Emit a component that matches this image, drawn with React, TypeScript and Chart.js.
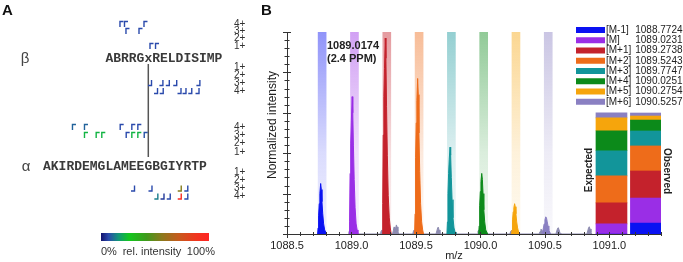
import React, { useEffect, useRef } from "react";
import { Chart, registerables } from "chart.js";

Chart.register(...registerables);

const FONT = "'Liberation Sans', Arial, sans-serif";
const MONO = "'Liberation Mono', 'Courier New', monospace";

// ---------------- Panel B data ----------------
const ISO_LABELS = ["[M-1]", "[M]", "[M+1]", "[M+2]", "[M+3]", "[M+4]", "[M+5]", "[M+6]"];
const ISO_MZ = [1088.7724, 1089.0231, 1089.2738, 1089.5243, 1089.7747, 1090.0251, 1090.2754, 1090.5257];
const ISO_COLORS = ["#0a12f2", "#9a2ee6", "#c4222c", "#ee6c1a", "#12959a", "#0c8a1a", "#f6a50c", "#8a80c2"];
const EXPECTED = [0, 0.05, 0.104, 0.134, 0.124, 0.099, 0.064, 0.025];
const OBSERVED = [0.054, 0.124, 0.134, 0.124, 0.074, 0.054, 0.02, 0.015];
const COLUMN_LABELS = ["Expected", "Observed"];
const COLUMN_MZ = [1091.016, 1091.283];
const BAND_TOP = 1;
const X_MIN = 1088.5;
const X_MAX = 1091.4;
const X_MAJOR = 0.5;
const X_MINOR = 0.1;
const Y_MAJOR = 0.2;
const Y_MINOR = 0.04;
const ANNOTATION = ["1089.0174", "(2.4 PPM)"];
const X_TITLE = "m/z";
const Y_TITLE = "Normalized intensity";

const PEAK_M_1 = [
  [1088.737, 0], [1088.741, 0.03], [1088.745, 0.09], [1088.75, 0.15], [1088.755, 0.2], [1088.761, 0.25],
  [1088.766, 0.22], [1088.771, 0.16], [1088.777, 0.1], [1088.784, 0.05], [1088.792, 0.02], [1088.8, 0.01],
  [1088.806, 0],
];
const PEAK_M = [
  [1088.981, 0], [1088.985, 0.06], [1088.989, 0.3], [1088.994, 0.45], [1088.999, 0.56], [1089.005, 0.68],
  [1089.01, 0.6], [1089.015, 0.44], [1089.021, 0.27], [1089.028, 0.13], [1089.036, 0.05], [1089.044, 0.02],
  [1089.05, 0],
];
const PEAK_M1 = [
  [1089.238, 0], [1089.242, 0.15], [1089.246, 0.49], [1089.251, 0.68], [1089.256, 0.82], [1089.262, 0.97],
  [1089.267, 0.87], [1089.272, 0.63], [1089.278, 0.39], [1089.285, 0.19], [1089.293, 0.08], [1089.301, 0.03],
  [1089.308, 0],
];
const PEAK_M2 = [
  [1089.489, 0], [1089.493, 0.1], [1089.497, 0.38], [1089.502, 0.55], [1089.507, 0.66], [1089.513, 0.77],
  [1089.518, 0.69], [1089.523, 0.5], [1089.529, 0.31], [1089.536, 0.15], [1089.544, 0.06], [1089.552, 0.02],
  [1089.559, 0],
];
const PEAK_M3 = [
  [1089.74, 0], [1089.744, 0.06], [1089.748, 0.2], [1089.753, 0.3], [1089.758, 0.37], [1089.764, 0.43],
  [1089.769, 0.39], [1089.774, 0.28], [1089.78, 0.17], [1089.787, 0.08], [1089.795, 0.03], [1089.803, 0.01],
  [1089.81, 0],
];
const PEAK_M4 = [
  [1089.986, 0], [1089.99, 0.04], [1089.994, 0.14], [1089.999, 0.21], [1090.004, 0.26], [1090.01, 0.3],
  [1090.015, 0.27], [1090.02, 0.2], [1090.026, 0.12], [1090.033, 0.06], [1090.041, 0.02], [1090.049, 0.01],
  [1090.056, 0],
];
const PEAK_M5 = [
  [1090.241, 0], [1090.245, 0.02], [1090.249, 0.07], [1090.254, 0.11], [1090.259, 0.13], [1090.265, 0.15],
  [1090.27, 0.135], [1090.275, 0.1], [1090.281, 0.06], [1090.288, 0.03], [1090.296, 0.01], [1090.304, 0],
];
const PEAK_M6 = [
  [1090.476, 0], [1090.482, 0.01], [1090.488, 0.03], [1090.494, 0.05], [1090.5, 0.07], [1090.506, 0.085],
  [1090.512, 0.08], [1090.518, 0.06], [1090.524, 0.04], [1090.53, 0.02], [1090.537, 0.01], [1090.544, 0],
];
const PEAKS = [PEAK_M_1, PEAK_M, PEAK_M1, PEAK_M2, PEAK_M3, PEAK_M4, PEAK_M5, PEAK_M6];

const BACKGROUND = [
  [1088.975, 0], [1088.98, 0.012], [1088.985, 0.015], [1088.99, 0.01], [1088.995, 0],
  [1089.225, 0], [1089.23, 0.015], [1089.236, 0.02], [1089.242, 0],
  [1089.318, 0], [1089.324, 0.015], [1089.33, 0.035], [1089.336, 0.03], [1089.342, 0.025], [1089.348, 0.045],
  [1089.354, 0.035], [1089.36, 0.012], [1089.366, 0],
  [1089.475, 0], [1089.481, 0.015], [1089.487, 0.02], [1089.493, 0],
  [1089.655, 0], [1089.662, 0.015], [1089.668, 0.03], [1089.673, 0.034], [1089.679, 0.02], [1089.686, 0.005],
  [1089.692, 0],
  [1089.975, 0], [1089.981, 0.015], [1089.988, 0.02], [1089.994, 0],
  [1090.228, 0], [1090.234, 0.012], [1090.241, 0.018], [1090.247, 0],
  [1090.455, 0], [1090.462, 0.012], [1090.469, 0.024], [1090.476, 0.02], [1090.484, 0],
  [1090.585, 0], [1090.592, 0.015], [1090.598, 0.028], [1090.604, 0.031], [1090.61, 0.02], [1090.617, 0.005],
  [1090.623, 0],
  [1090.825, 0], [1090.832, 0.015], [1090.838, 0.03], [1090.844, 0.036], [1090.85, 0.025], [1090.857, 0.008],
  [1090.864, 0],
];
const BACKGROUND_COLOR = "#8d8bb0";

// ---------------- Panel A data ----------------
const BETA_SEQ = "ABRRGxRELDISIMP";
const ALPHA_SEQ = "AKIRDEMGLAMEEGBGIYRTP";
const BETA_LINK = 5;
const ALPHA_LINK = 13;
const BETA_OFFSET = ALPHA_LINK - BETA_LINK;
const CHARGES = ["1+", "2+", "3+", "4+"];
// [position along chain (residues), charge, relative intensity]
const BETA_N = [
  [2.06, 4, 0.07], [2.64, 4, 0.07], [5.14, 4, 0.07], [2.83, 3, 0.07], [4.5, 3, 0.07], [5.91, 1, 0.07], [6.62, 1, 0.07],
];
const BETA_C = [
  [5.72, 3, 0.07], [7.18, 3, 0.07], [8.0, 3, 0.07], [8.95, 3, 0.07], [11.92, 3, 0.07],
  [6.49, 4, 0.07], [7.22, 4, 0.07], [9.5, 4, 0.07], [10.14, 4, 0.07], [10.88, 4, 0.07], [11.81, 4, 0.07],
];
const ALPHA_N = [
  [3.97, 4, 0.1], [5.51, 4, 0.1], [10.09, 4, 0.07], [11.58, 4, 0.07], [12.35, 4, 0.07],
  [5.51, 3, 0.22], [7.01, 3, 0.22], [7.73, 3, 0.22], [10.86, 3, 0.07], [11.58, 3, 0.22], [12.35, 3, 0.22], [13.17, 3, 0.08],
];
const ALPHA_C = [
  [11.54, 3, 0.07], [13.78, 3, 0.07], [17.53, 3, 0.55], [18.37, 3, 0.07],
  [14.53, 4, 0.13], [15.32, 4, 0.05], [16.12, 4, 0.07], [17.53, 4, 0.95], [18.37, 4, 0.07],
];
const CMAP: [number, string][] = [
  [0, "#12126e"], [0.07, "#2a4aac"], [0.16, "#12967a"], [0.26, "#12c81e"], [0.42, "#3f9a1c"],
  [0.56, "#8a7a1c"], [0.72, "#c65a1c"], [0.88, "#f0361e"], [1, "#ff2424"],
];
const CBAR_LABELS = ["0%", "rel. intensity", "100%"];

// ---------------- layout ----------------
const A_W = 250;
const B_W = 433;
const H = 262;
const A_UNIT = 7.8; // px per residue
const A_ORIGIN = 43; // px of alpha chain start
const SEQ_Y = { beta: 58, alpha: 166 };
const ROW_Y = {
  betaN: [46, 38.5, 31, 24],
  betaC: [67, 75, 83, 91],
  alphaN: [152, 143.5, 135, 127],
  alphaC: [172, 180, 188.5, 196.5],
};
const LINK_Y = [64, 157];

function hexToRgb(h: string) {
  const n = parseInt(h.slice(1), 16);
  return [(n >> 16) & 255, (n >> 8) & 255, n & 255];
}
function rgba(h: string, a: number) {
  const [r, g, b] = hexToRgb(h);
  return `rgba(${r},${g},${b},${a})`;
}
function cmap(v: number) {
  for (let i = 1; i < CMAP.length; i++) {
    if (v <= CMAP[i][0]) {
      const [v0, c0] = CMAP[i - 1];
      const [v1, c1] = CMAP[i];
      const t = (v - v0) / (v1 - v0);
      const a = hexToRgb(c0);
      const b = hexToRgb(c1);
      const m = a.map((x, k) => Math.round(x + (b[k] - x) * t));
      return `rgb(${m[0]},${m[1]},${m[2]})`;
    }
  }
  return CMAP[CMAP.length - 1][1];
}

const panelBPlugin = {
  id: "panelB",
  afterDraw(chart: any) {
    const ctx = chart.ctx;
    const a = chart.chartArea;
    const xs = chart.scales.x;
    const ys = chart.scales.y;
    ctx.save();
    ctx.strokeStyle = "#333";
    ctx.lineWidth = 1;
    ys.ticks.forEach((t: any) => {
      const py = Math.round(ys.getPixelForValue(t.value)) + 0.5;
      const r = t.value / Y_MAJOR;
      const major = Math.abs(r - Math.round(r)) < 1e-6;
      const l = major ? 4 : 2.5;
      ctx.beginPath();
      ctx.moveTo(a.left - l, py);
      ctx.lineTo(a.left + l, py);
      ctx.stroke();
    });
    const per = Math.round(X_MAJOR / X_MINOR);
    const n = Math.floor((X_MAX - X_MIN) / X_MINOR + 1e-6);
    for (let i = 0; i <= n; i++) {
      const px = Math.round(xs.getPixelForValue(X_MIN + i * X_MINOR)) + 0.5;
      const major = i % per === 0;
      ctx.beginPath();
      ctx.moveTo(px, a.bottom - 2);
      ctx.lineTo(px, a.bottom + (major ? 4 : 2));
      ctx.stroke();
    }
    // titles
    ctx.fillStyle = "#222";
    ctx.font = `12px ${FONT}`;
    ctx.textAlign = "center";
    ctx.textBaseline = "middle";
    ctx.save();
    ctx.translate(23, 125);
    ctx.rotate(-Math.PI / 2);
    ctx.fillText(Y_TITLE, 0, 0);
    ctx.restore();
    ctx.font = `11px ${FONT}`;
    ctx.fillText(X_TITLE, 204, 256);
    // annotation
    ctx.font = `bold 11px ${FONT}`;
    ctx.textAlign = "left";
    ctx.fillText(ANNOTATION[0], 77, 46);
    ctx.fillText(ANNOTATION[1], 77, 59);
    // legend
    ctx.font = `10px ${FONT}`;
    ISO_LABELS.forEach((lab, i) => {
      const y = 30 + i * 10.25;
      ctx.fillStyle = ISO_COLORS[i];
      ctx.fillRect(326, y - 3, 29, 6);
      ctx.fillStyle = "#222";
      ctx.textAlign = "left";
      ctx.fillText(lab, 356, y);
      ctx.textAlign = "right";
      ctx.fillText(ISO_MZ[i].toFixed(4), 432.5, y);
    });
    // column labels
    ctx.font = `bold 10px ${FONT}`;
    ctx.textAlign = "center";
    const ex = xs.getPixelForValue(COLUMN_MZ[0]) - 22.5;
    const ox = xs.getPixelForValue(COLUMN_MZ[1]) + 21;
    ctx.save();
    ctx.translate(ex, 170);
    ctx.rotate(-Math.PI / 2);
    ctx.fillText(COLUMN_LABELS[0], 0, 0);
    ctx.restore();
    ctx.save();
    ctx.translate(ox, 171);
    ctx.rotate(Math.PI / 2);
    ctx.fillText(COLUMN_LABELS[1], 0, 0);
    ctx.restore();
    // panel letter
    ctx.font = `bold 15px ${FONT}`;
    ctx.textAlign = "left";
    ctx.textBaseline = "alphabetic";
    ctx.fillStyle = "#111";
    ctx.fillText("B", 11, 15);
    ctx.restore();
  },
};

const A_SIDES = ["N", "C", "N", "C"];

const panelAPlugin = {
  id: "panelA",
  afterDatasetsDraw(chart: any) {
    const ctx = chart.ctx;
    const xs = chart.scales.x;
    const ys = chart.scales.y;
    ctx.save();
    ctx.fillStyle = "#111";
    ctx.font = `bold 15px ${FONT}`;
    ctx.textBaseline = "alphabetic";
    ctx.fillText("A", 2, 15);
    // sequences
    ctx.font = `bold 13px ${MONO}`;
    ctx.fillStyle = "#3a3a3a";
    ctx.textAlign = "center";
    ctx.textBaseline = "middle";
    [...BETA_SEQ].forEach((c, i) =>
      ctx.fillText(c, xs.getPixelForValue(BETA_OFFSET + i + 0.5), ys.getPixelForValue(SEQ_Y.beta) + 1)
    );
    [...ALPHA_SEQ].forEach((c, i) =>
      ctx.fillText(c, xs.getPixelForValue(i + 0.5), ys.getPixelForValue(SEQ_Y.alpha) + 1)
    );
    ctx.font = `15px ${FONT}`;
    ctx.fillStyle = "#444";
    ctx.fillText("β", 25, ys.getPixelForValue(SEQ_Y.beta) + 1);
    ctx.fillText("α", 26, ys.getPixelForValue(SEQ_Y.alpha) + 1);
    // charge labels
    ctx.font = `10px ${FONT}`;
    ctx.fillStyle = "#333";
    ctx.textAlign = "left";
    Object.values(ROW_Y).forEach((rows) =>
      rows.forEach((ry, k) => ctx.fillText(CHARGES[k], 234, ys.getPixelForValue(ry)))
    );
    // cross-link
    const lx = xs.getPixelForValue(ALPHA_LINK + 0.5);
    ctx.strokeStyle = "#555";
    ctx.lineWidth = 1.5;
    ctx.beginPath();
    ctx.moveTo(lx, ys.getPixelForValue(LINK_Y[0]));
    ctx.lineTo(lx, ys.getPixelForValue(LINK_Y[1]));
    ctx.stroke();
    // markers
    ctx.lineWidth = 1.4;
    chart.data.datasets.forEach((ds: any, di: number) => {
      const meta = chart.getDatasetMeta(di);
      const side = A_SIDES[di];
      meta.data.forEach((el: any, j: number) => {
        const v = ds.data[j].v;
        ctx.strokeStyle = cmap(v);
        const x = el.x;
        const y = el.y;
        ctx.beginPath();
        if (side === "N") {
          ctx.moveTo(x - 1.5, y + 3);
          ctx.lineTo(x - 1.5, y - 2.5);
          ctx.lineTo(x + 2, y - 2.5);
        } else {
          ctx.moveTo(x + 1.5, y - 3);
          ctx.lineTo(x + 1.5, y + 2.5);
          ctx.lineTo(x - 2, y + 2.5);
        }
        ctx.stroke();
      });
    });
    // colour bar
    const g = ctx.createLinearGradient(101, 0, 209, 0);
    CMAP.forEach(([s, c]) => g.addColorStop(s, c));
    ctx.fillStyle = g;
    ctx.fillRect(101, 233, 108, 8);
    ctx.fillStyle = "#333";
    ctx.font = `11px ${FONT}`;
    ctx.textBaseline = "middle";
    ctx.textAlign = "left";
    ctx.fillText(CBAR_LABELS[0], 101, 252);
    ctx.textAlign = "center";
    ctx.fillText(CBAR_LABELS[1], 152, 252);
    ctx.textAlign = "right";
    ctx.fillText(CBAR_LABELS[2], 215, 252);
    ctx.restore();
  },
};

export default function App() {
  const aRef = useRef<HTMLCanvasElement>(null);
  const bRef = useRef<HTMLCanvasElement>(null);

  useEffect(() => {
    Chart.defaults.font.family = FONT;

    const toPts = (arr: number[][]) => arr.map(([x, y]) => ({ x, y }));

    const datasetsB: any[] = [];
    datasetsB.push({
      type: "bar",
      label: "bands",
      data: ISO_MZ.map((mz) => ({ x: mz, y: BAND_TOP })),
      backgroundColor: (c: any) => {
        const col = ISO_COLORS[c.dataIndex] || ISO_COLORS[0];
        const area = c.chart.chartArea;
        if (!area) return rgba(col, 0.3);
        const g = c.chart.ctx.createLinearGradient(0, area.top, 0, area.bottom);
        g.addColorStop(0, rgba(col, 0.45));
        g.addColorStop(0.6, rgba(col, 0.15));
        g.addColorStop(1, rgba(col, 0.06));
        return g;
      },
      borderWidth: 0,
      barThickness: 8,
      grouped: false,
      order: 10,
    });
    datasetsB.push({
      type: "line",
      label: "background",
      data: toPts(BACKGROUND),
      borderColor: BACKGROUND_COLOR,
      backgroundColor: BACKGROUND_COLOR,
      fill: "origin",
      pointRadius: 0,
      borderWidth: 1,
      tension: 0,
      order: 5,
    });
    PEAKS.forEach((p, i) =>
      datasetsB.push({
        type: "line",
        label: ISO_LABELS[i],
        data: toPts(p),
        borderColor: ISO_COLORS[i],
        backgroundColor: ISO_COLORS[i],
        fill: "origin",
        pointRadius: 0,
        borderWidth: 1,
        tension: 0,
        order: 2,
      })
    );
    ISO_LABELS.forEach((l, i) =>
      datasetsB.push({
        type: "bar",
        label: l,
        data: [
          { x: COLUMN_MZ[0], y: EXPECTED[i] },
          { x: COLUMN_MZ[1], y: OBSERVED[i] },
        ],
        backgroundColor: ISO_COLORS[i],
        borderWidth: 0,
        barThickness: 31,
        grouped: false,
        stack: "iso",
        order: 1,
      })
    );

    const chartB = new Chart(bRef.current!, {
      type: "bar",
      data: { datasets: datasetsB },
      options: {
        animation: false,
        responsive: false,
        devicePixelRatio: 1,
        events: [],
        layout: { padding: { top: 32, right: 22, left: 0, bottom: 0 } },
        plugins: { legend: { display: false }, tooltip: { enabled: false } },
        scales: {
          x: {
            type: "linear",
            min: X_MIN,
            max: X_MAX,
            offset: false,
            grid: { display: false, drawTicks: false },
            border: { display: true, color: "#333", width: 1 },
            ticks: {
              stepSize: X_MAJOR,
              includeBounds: false,
              autoSkip: false,
              maxRotation: 0,
              padding: 5,
              color: "#222",
              font: { family: FONT, size: 11 },
              callback: (v: any) => Number(v).toFixed(1),
            },
            afterFit: (s: any) => {
              s.height = 28;
            },
          },
          y: {
            type: "linear",
            min: 0,
            max: 1,
            grid: { display: false, drawTicks: false },
            border: { display: true, color: "#333", width: 1 },
            ticks: { display: false, stepSize: Y_MINOR },
            afterFit: (s: any) => {
              s.width = 37;
            },
          },
        },
      } as any,
      plugins: [panelBPlugin],
    });

    const mk = (arr: number[][], offset: number, rows: number[]) =>
      arr.map(([p, z, v]) => ({ x: offset + p, y: rows[z - 1], v }));

    const chartA = new Chart(aRef.current!, {
      type: "scatter",
      data: {
        datasets: [
          { label: "β N", data: mk(BETA_N, BETA_OFFSET, ROW_Y.betaN), pointRadius: 0 },
          { label: "β C", data: mk(BETA_C, BETA_OFFSET, ROW_Y.betaC), pointRadius: 0 },
          { label: "α N", data: mk(ALPHA_N, 0, ROW_Y.alphaN), pointRadius: 0 },
          { label: "α C", data: mk(ALPHA_C, 0, ROW_Y.alphaC), pointRadius: 0 },
        ],
      },
      options: {
        animation: false,
        responsive: false,
        devicePixelRatio: 1,
        events: [],
        layout: { padding: 0 },
        plugins: { legend: { display: false }, tooltip: { enabled: false } },
        scales: {
          x: { type: "linear", display: false, min: -A_ORIGIN / A_UNIT, max: (A_W - A_ORIGIN) / A_UNIT },
          y: { type: "linear", display: false, min: 0, max: H, reverse: true },
        },
      } as any,
      plugins: [panelAPlugin],
    });

    return () => {
      chartA.destroy();
      chartB.destroy();
    };
  }, []);

  return (
    <div style={{ position: "absolute", left: 0, top: 0, width: A_W + B_W, height: H, background: "#fff" }}>
      <canvas ref={aRef} width={A_W} height={H} style={{ position: "absolute", left: 0, top: 0 }} />
      <canvas ref={bRef} width={B_W} height={H} style={{ position: "absolute", left: A_W, top: 0 }} />
    </div>
  );
}
